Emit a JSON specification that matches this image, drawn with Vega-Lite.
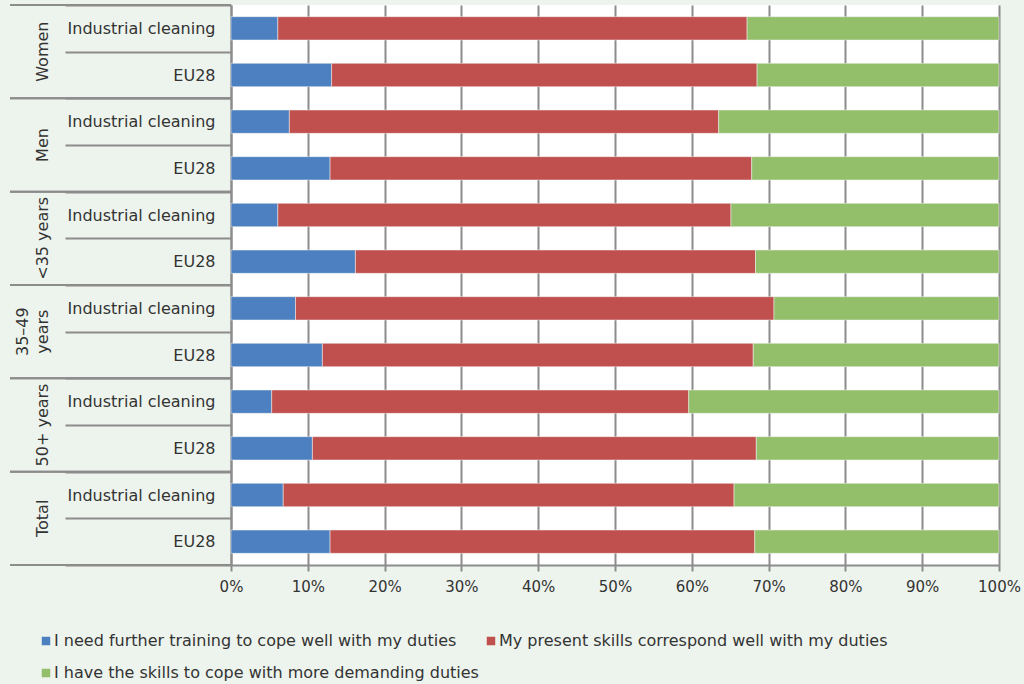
{
  "$schema": "https://vega.github.io/schema/vega-lite/v6.json",
  "width": 768,
  "height": 560,
  "autosize": {"type": "none"},
  "padding": {"left": 231, "top": 5, "right": 25, "bottom": 119},
  "background": "#edf3ed",
  "config": {
    "font": "DejaVu Sans",
    "view": {"fill": "#ffffff", "stroke": null}
  },
  "datasets": {
    "bars": [
      {"row": "Women|Industrial cleaning", "response": "I need further training to cope well with my duties", "value": 6.1},
      {"row": "Women|Industrial cleaning", "response": "My present skills correspond well with my duties", "value": 61.1},
      {"row": "Women|Industrial cleaning", "response": "I have the skills to cope with more demanding duties", "value": 32.8},
      {"row": "Women|EU28", "response": "I need further training to cope well with my duties", "value": 13.1},
      {"row": "Women|EU28", "response": "My present skills correspond well with my duties", "value": 55.4},
      {"row": "Women|EU28", "response": "I have the skills to cope with more demanding duties", "value": 31.5},
      {"row": "Men|Industrial cleaning", "response": "I need further training to cope well with my duties", "value": 7.6},
      {"row": "Men|Industrial cleaning", "response": "My present skills correspond well with my duties", "value": 55.9},
      {"row": "Men|Industrial cleaning", "response": "I have the skills to cope with more demanding duties", "value": 36.5},
      {"row": "Men|EU28", "response": "I need further training to cope well with my duties", "value": 12.9},
      {"row": "Men|EU28", "response": "My present skills correspond well with my duties", "value": 54.9},
      {"row": "Men|EU28", "response": "I have the skills to cope with more demanding duties", "value": 32.2},
      {"row": "<35 years|Industrial cleaning", "response": "I need further training to cope well with my duties", "value": 6.1},
      {"row": "<35 years|Industrial cleaning", "response": "My present skills correspond well with my duties", "value": 59.0},
      {"row": "<35 years|Industrial cleaning", "response": "I have the skills to cope with more demanding duties", "value": 34.9},
      {"row": "<35 years|EU28", "response": "I need further training to cope well with my duties", "value": 16.2},
      {"row": "<35 years|EU28", "response": "My present skills correspond well with my duties", "value": 52.1},
      {"row": "<35 years|EU28", "response": "I have the skills to cope with more demanding duties", "value": 31.7},
      {"row": "35–49 years|Industrial cleaning", "response": "I need further training to cope well with my duties", "value": 8.4},
      {"row": "35–49 years|Industrial cleaning", "response": "My present skills correspond well with my duties", "value": 62.3},
      {"row": "35–49 years|Industrial cleaning", "response": "I have the skills to cope with more demanding duties", "value": 29.3},
      {"row": "35–49 years|EU28", "response": "I need further training to cope well with my duties", "value": 11.9},
      {"row": "35–49 years|EU28", "response": "My present skills correspond well with my duties", "value": 56.1},
      {"row": "35–49 years|EU28", "response": "I have the skills to cope with more demanding duties", "value": 32.0},
      {"row": "50+ years|Industrial cleaning", "response": "I need further training to cope well with my duties", "value": 5.3},
      {"row": "50+ years|Industrial cleaning", "response": "My present skills correspond well with my duties", "value": 54.3},
      {"row": "50+ years|Industrial cleaning", "response": "I have the skills to cope with more demanding duties", "value": 40.4},
      {"row": "50+ years|EU28", "response": "I need further training to cope well with my duties", "value": 10.6},
      {"row": "50+ years|EU28", "response": "My present skills correspond well with my duties", "value": 57.8},
      {"row": "50+ years|EU28", "response": "I have the skills to cope with more demanding duties", "value": 31.6},
      {"row": "Total|Industrial cleaning", "response": "I need further training to cope well with my duties", "value": 6.8},
      {"row": "Total|Industrial cleaning", "response": "My present skills correspond well with my duties", "value": 58.7},
      {"row": "Total|Industrial cleaning", "response": "I have the skills to cope with more demanding duties", "value": 34.5},
      {"row": "Total|EU28", "response": "I need further training to cope well with my duties", "value": 12.9},
      {"row": "Total|EU28", "response": "My present skills correspond well with my duties", "value": 55.3},
      {"row": "Total|EU28", "response": "I have the skills to cope with more demanding duties", "value": 31.8}
    ],
    "groups": [
      {"first": "Women|Industrial cleaning", "last": "Women|EU28", "label": "Women"},
      {"first": "Men|Industrial cleaning", "last": "Men|EU28", "label": "Men"},
      {"first": "<35 years|Industrial cleaning", "last": "<35 years|EU28", "label": "<35 years"},
      {"first": "35–49 years|Industrial cleaning", "last": "35–49 years|EU28", "label": "35–49\nyears"},
      {"first": "50+ years|Industrial cleaning", "last": "50+ years|EU28", "label": "50+ years"},
      {"first": "Total|Industrial cleaning", "last": "Total|EU28", "label": "Total"}
    ]
  },
  "layer": [
    {
      "data": {"name": "bars"},
      "transform": [
        {"calculate": "indexof(['I need further training to cope well with my duties', 'My present skills correspond well with my duties', 'I have the skills to cope with more demanding duties'], datum.response)", "as": "k"}
      ],
      "mark": {"type": "bar", "height": {"band": 0.5}, "stroke": "#f4f4f4", "strokeWidth": 0.5},
      "encoding": {
        "y": {
          "field": "row",
          "type": "nominal",
          "scale": {"type": "band", "paddingInner": 0, "paddingOuter": 0, "domain": ["Women|Industrial cleaning", "Women|EU28", "Men|Industrial cleaning", "Men|EU28", "<35 years|Industrial cleaning", "<35 years|EU28", "35–49 years|Industrial cleaning", "35–49 years|EU28", "50+ years|Industrial cleaning", "50+ years|EU28", "Total|Industrial cleaning", "Total|EU28"]},
          "axis": {
            "orient": "left",
            "title": null,
            "grid": false,
            "labelExpr": "split(datum.value, '|')[1]",
            "labelFontSize": 16,
            "labelColor": "#333333",
            "labelPadding": -150,
            "tickSize": 166,
            "tickBand": "extent",
            "tickColor": "#8c8c8c",
            "tickWidth": 2,
            "domainColor": "#8c8c8c",
            "domainWidth": 2
          }
        },
        "x": {
          "field": "value",
          "type": "quantitative",
          "stack": "normalize",
          "scale": {"domain": [0, 1]},
          "axis": {
            "title": null,
            "format": ".0%",
            "values": [0, 0.1, 0.2, 0.3, 0.4, 0.5, 0.6, 0.7, 0.8, 0.9, 1],
            "labelFlush": false,
            "labelFontSize": 15,
            "labelColor": "#333333",
            "labelPadding": 8,
            "tickSize": 6,
            "tickWidth": 2,
            "tickColor": "#8c8c8c",
            "domainColor": "#8c8c8c",
            "domainWidth": 2,
            "grid": true,
            "gridColor": "#8c8c8c",
            "gridWidth": 2
          }
        },
        "order": {"field": "k", "type": "quantitative"},
        "color": {
          "field": "response",
          "type": "nominal",
          "scale": {
            "domain": ["I need further training to cope well with my duties", "My present skills correspond well with my duties", "I have the skills to cope with more demanding duties"],
            "range": ["#4d80c0", "#c0504d", "#93bf6a"]
          },
          "legend": {
            "title": null,
            "orient": "none",
            "legendX": -193,
            "legendY": 628,
            "columns": 2,
            "direction": "horizontal",
            "symbolType": "square",
            "symbolSize": 72,
            "symbolStrokeWidth": 0,
            "labelFontSize": 16,
            "labelColor": "#333333",
            "labelLimit": 600,
            "labelOffset": 0,
            "columnPadding": 4,
            "rowPadding": 16
          }
        }
      }
    },
    {
      "data": {"name": "groups"},
      "mark": {"type": "rule", "color": "#8c8c8c", "strokeWidth": 2},
      "encoding": {
        "y": {"field": "first", "type": "nominal", "bandPosition": 0},
        "x": {"datum": -0.2877, "type": "quantitative"},
        "x2": {"datum": 0}
      }
    },
    {
      "data": {"name": "groups"},
      "mark": {"type": "rule", "color": "#8c8c8c", "strokeWidth": 2},
      "encoding": {
        "y": {"field": "last", "type": "nominal", "bandPosition": 1},
        "x": {"datum": -0.2877, "type": "quantitative"},
        "x2": {"datum": 0}
      }
    },
    {
      "data": {"name": "groups"},
      "transform": [{"filter": "datum.first != '35–49 years|Industrial cleaning'"}],
      "mark": {"type": "text", "angle": 270, "align": "center", "baseline": "bottom", "fontSize": 16, "color": "#333333"},
      "encoding": {
        "y": {"field": "first", "type": "nominal", "bandPosition": 1},
        "x": {"datum": -0.2344, "type": "quantitative"},
        "text": {"field": "label", "type": "nominal"}
      }
    },
    {
      "data": {"name": "groups"},
      "transform": [{"filter": "datum.first == '35–49 years|Industrial cleaning'"}],
      "mark": {"type": "text", "angle": 270, "align": "center", "baseline": "bottom", "fontSize": 16, "color": "#333333", "lineBreak": "\n", "lineHeight": 20},
      "encoding": {
        "y": {"field": "first", "type": "nominal", "bandPosition": 1},
        "x": {"datum": -0.2604, "type": "quantitative"},
        "text": {"field": "label", "type": "nominal"}
      }
    }
  ]
}
